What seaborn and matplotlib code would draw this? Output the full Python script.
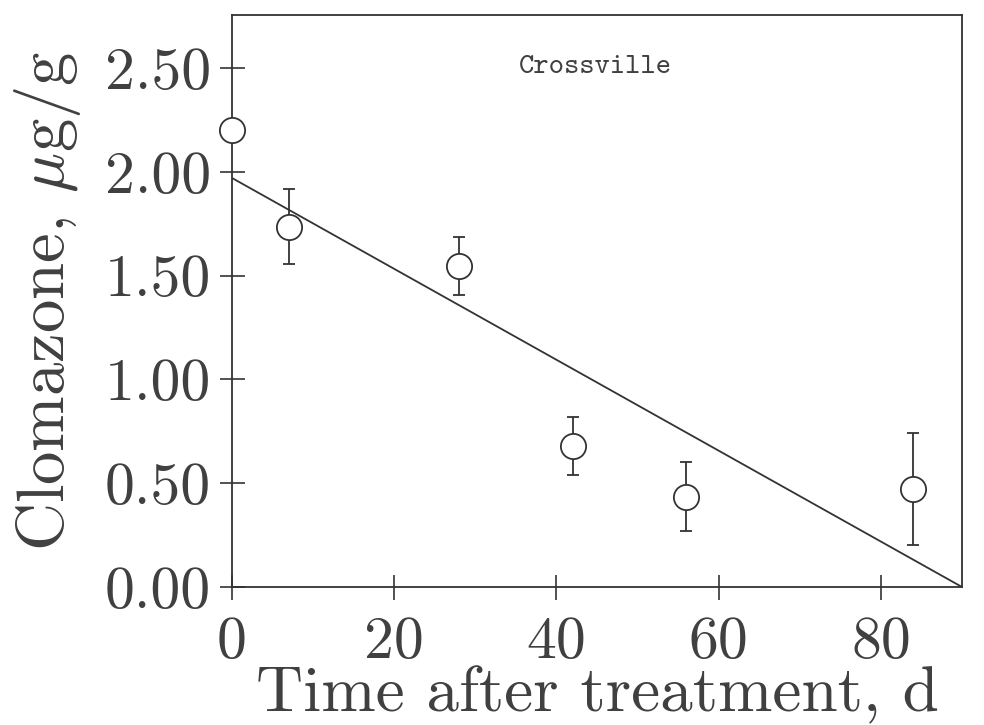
import matplotlib
matplotlib.use("Agg")
import matplotlib.pyplot as plt
import seaborn as sns
import pandas as pd

# data
days = [0, 7, 28, 42, 56, 84]
conc = [2.20, 1.735, 1.545, 0.68, 0.435, 0.47]
err = [0.0, 0.18, 0.14, 0.14, 0.165, 0.27]
fit_x = [0, 90]
fit_y = [1.97, 0.0]
xticks = [0, 20, 40, 60, 80]
yticks = [0.0, 0.5, 1.0, 1.5, 2.0, 2.5]
ytick_labels = ["0.00", "0.50", "1.00", "1.50", "2.00", "2.50"]
site = "Crossville"

sns.set_style("ticks")
plt.rcParams["font.family"] = ["cmr10", "DejaVu Serif"]
plt.rcParams["mathtext.fontset"] = "cm"
plt.rcParams["axes.formatter.use_mathtext"] = True

ink = "#333333"
txt = "#404040"
fig = plt.figure(figsize=(9.84, 7.25), dpi=100)
ax_h = 587 - 15
ax = fig.add_axes([232/984, 1-587/725, (962-232)/984, ax_h/725])

df = pd.DataFrame({"day": days, "conc": conc, "err": err})
fit = pd.DataFrame({"x": fit_x, "y": fit_y})

sns.lineplot(data=fit, x="x", y="y", ax=ax, color=ink, lw=1.3, zorder=2)
ax.errorbar(df["day"], df["conc"], yerr=df["err"], fmt="none", ecolor=ink,
            elinewidth=1.3, capsize=4.5, capthick=1.3, zorder=3, clip_on=False)
sns.scatterplot(data=df, x="day", y="conc", ax=ax, s=330, marker="o",
                facecolor="white", edgecolor=ink, linewidth=1.3, zorder=4,
                clip_on=False)

ax.set_xlim(0, 90)
ax.set_ylim(0, 2.755)
ax.set_xticks(xticks)
ax.set_xticklabels([str(v) for v in xticks])
ax.set_yticks(yticks)
ax.set_yticklabels(ytick_labels)
ax.tick_params(direction="inout", length=18, width=1.2, color=ink,
               labelsize=43, labelcolor=txt)
ax.tick_params(axis="y", pad=6)
ax.tick_params(axis="x", pad=12)
for s in ax.spines.values():
    s.set_visible(True)
    s.set_color(ink)
    s.set_linewidth(1.3)

xl = ax.set_xlabel("Time after treatment, d", fontsize=47, color=txt)
xl.set_va("baseline")
ax.xaxis.set_label_coords(0.5, -(711 - 587) / ax_h)
yl = ax.set_ylabel(r"Clomazone, $\mu$g/g", fontsize=48, color=txt)
ax.yaxis.set_label_coords(-(232 - 12) / 730, 0.5)
yl.set_va("top")

ax.text(44.8, 2.5, site, fontsize=21, color=txt, ha="center", va="center",
        family=["cmtt10", "DejaVu Sans Mono"])

fig.savefig("out.png", dpi=100)
